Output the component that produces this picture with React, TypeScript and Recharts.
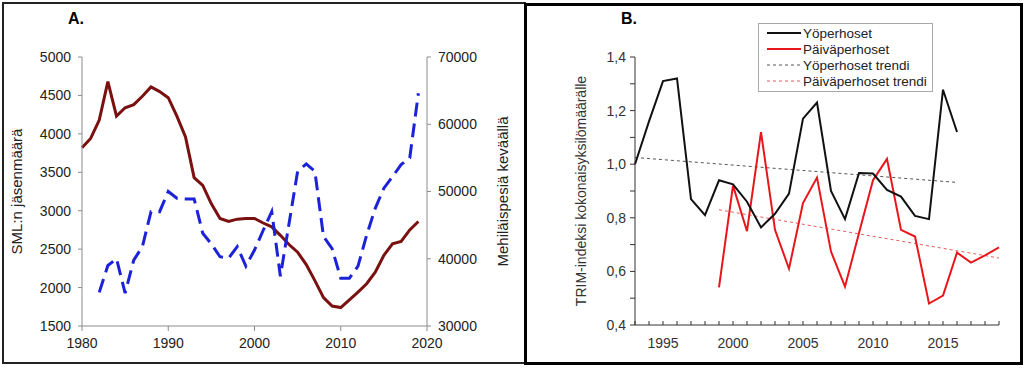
// Two-panel figure: SML members vs. beehives (A) and TRIM butterfly indices (B)
import { LineChart, Line, XAxis, YAxis } from 'recharts';

// Panel A data
const yearsA = [
  1980, 1981, 1982, 1983, 1984, 1985, 1986, 1987, 1988, 1989,
  1990, 1991, 1992, 1993, 1994, 1995, 1996, 1997, 1998, 1999,
  2000, 2001, 2002, 2003, 2004, 2005, 2006, 2007, 2008, 2009,
  2010, 2011, 2012, 2013, 2014, 2015, 2016, 2017, 2018, 2019,
];
const jasenmaara = [
  3820, 3940, 4180, 4680, 4230, 4340, 4380, 4490, 4610, 4550,
  4470, 4230, 3960, 3430, 3330, 3090, 2900, 2860, 2890, 2900,
  2900, 2840, 2790, 2680, 2560, 2460, 2300, 2090, 1870, 1760,
  1740, 1840, 1940, 2050, 2200, 2420, 2570, 2600, 2750, 2860,
];
const pesat = [
  null, null, 35000, 39000, 40000, 34900, 39800, 41800, 47000, 47000,
  50000, 49000, 48900, 48900, 43800, 42200, 40300, 40100, 41800, 38900,
  41300, 44200, 47000, 37400, 45200, 53000, 54100, 53000, 43300, 41500,
  37100, 37100, 38900, 43500, 47500, 50500, 52200, 54000, 55000, 64600,
];
const ticksA = [1980, 1990, 2000, 2010, 2020];
const ticksLeft = [1500, 2000, 2500, 3000, 3500, 4000, 4500, 5000];
const ticksRight = [30000, 40000, 50000, 60000, 70000];

// Panel B data
const yearsB = [
  1993, 1994, 1995, 1996, 1997, 1998, 1999, 2000, 2001, 2002,
  2003, 2004, 2005, 2006, 2007, 2008, 2009, 2010, 2011, 2012,
  2013, 2014, 2015, 2016, 2017, 2018, 2019,
];
const yoperhoset = [
  1.0, 1.16, 1.31, 1.32, 0.87, 0.81, 0.94, 0.925, 0.86, 0.764,
  0.815, 0.89, 1.17, 1.23, 0.9, 0.795, 0.967, 0.965, 0.904, 0.879,
  0.807, 0.795, 1.278, 1.12, null, null, null,
];
const paivaperhoset = [
  null, null, null, null, null, null, 0.54, 0.92, 0.75, 1.12,
  0.755, 0.61, 0.855, 0.95, 0.674, 0.543, 0.743, 0.94, 1.02, 0.755,
  0.73, 0.48, 0.51, 0.67, 0.633, 0.66, 0.69,
];
const yoTrendi = [
  1.025, null, null, null, null, null, null, null, null, null,
  null, null, null, null, null, null, null, null, null, null,
  null, null, null, 0.932, null, null, null,
];
const paivaTrendi = [
  null, null, null, null, null, null, 0.83, null, null, null,
  null, null, null, null, null, null, null, null, null, null,
  null, null, null, null, null, null, 0.65,
];
const ticksBx = yearsB;
const ticksBy = [0.4, 0.5, 0.6, 0.7, 0.8, 0.9, 1.0, 1.1, 1.2, 1.3, 1.4];

const dataA = yearsA.map((year, i) => ({ year, jasen: jasenmaara[i], pesat: pesat[i] }));
const dataB = yearsB.map((year, i) => ({
  year,
  yo: yoperhoset[i],
  paiva: paivaperhoset[i],
  yoT: yoTrendi[i],
  paivaT: paivaTrendi[i],
}));

const legendItems = [
  { name: 'Yöperhoset', color: '#111', width: 2, dash: undefined },
  { name: 'Päiväperhoset', color: '#e8161b', width: 2, dash: undefined },
  { name: 'Yöperhoset trendi', color: '#555', width: 1, dash: '3 3' },
  { name: 'Päiväperhoset trendi', color: '#e85a5a', width: 1, dash: '3 3' },
];

function LegendBox() {
  return (
    <div style={{ position: 'absolute', left: 758, top: 23, border: '1px solid #aaa', background: '#fff', padding: '1px 5px 2px 8px' }}>
      {legendItems.map((it) => (
        <div key={it.name} style={{ display: 'flex', alignItems: 'center', height: 16, fontSize: 13.5, color: '#222' }}>
          <svg width={34} height={10} style={{ marginRight: 2 }}>
            <line x1={0} y1={5} x2={34} y2={5} stroke={it.color} strokeWidth={it.width} strokeDasharray={it.dash} />
          </svg>
          {it.name}
        </div>
      ))}
    </div>
  );
}

const fmtComma = (v: number) => (Math.round(v * 10) % 2 === 0 ? v.toFixed(1).replace('.', ',') : '');
const fmtYear = (v: number) => (v % 5 === 0 ? String(v) : '');

export default function App() {
  return (
    <div style={{ position: 'absolute', left: 0, top: 0, width: 1024, height: 368, background: '#fff', fontFamily: 'Arial, "Liberation Sans", sans-serif', overflow: 'hidden' }}>
      <div style={{ position: 'absolute', left: 2, top: 2, width: 520, height: 358, border: '2px solid #222' }} />
      <div style={{ position: 'absolute', left: 524, top: 3, width: 493, height: 356, border: '3px solid #000' }} />

      <div style={{ position: 'absolute', left: 68, top: 10, fontSize: 16, fontWeight: 'bold' }}>A.</div>
      <div style={{ position: 'absolute', left: 621, top: 10, fontSize: 16, fontWeight: 'bold' }}>B.</div>

      <div style={{ position: 'absolute', left: 0, top: 0 }}>
        <LineChart width={525} height={368} data={dataA} margin={{ top: 57, right: 2, bottom: 12, left: 2 }}>
          <XAxis
            dataKey="year"
            type="number"
            domain={[1980, 2020]}
            ticks={ticksA}
            stroke="#8c8c8c"
            tick={{ fill: '#222', fontSize: 14 }}
            tickSize={5}
            tickMargin={7}
            height={30}
          />
          <YAxis
            yAxisId="left"
            domain={[1500, 5000]}
            ticks={ticksLeft}
            width={80}
            stroke="#8c8c8c"
            tick={{ fill: '#222', fontSize: 14 }}
            tickSize={4}
            tickMargin={7}
            label={{ value: 'SML:n jäsenmäärä', angle: -90, position: 'insideLeft', offset: 15, style: { textAnchor: 'middle', fill: '#222', fontSize: 15 } }}
          />
          <YAxis
            yAxisId="right"
            orientation="right"
            domain={[30000, 70000]}
            ticks={ticksRight}
            width={96}
            stroke="#8c8c8c"
            tick={{ fill: '#222', fontSize: 14 }}
            tickSize={4}
            tickMargin={7}
            label={{ value: 'Mehiläispesiä keväällä', angle: -90, position: 'insideRight', offset: 20, style: { textAnchor: 'middle', fill: '#222', fontSize: 15 } }}
          />
          <Line yAxisId="left" dataKey="jasen" stroke="#7a1010" strokeWidth={3} dot={false} isAnimationActive={false} />
          <Line yAxisId="right" dataKey="pesat" stroke="#1b22d8" strokeWidth={3} strokeDasharray="14 7" dot={false} isAnimationActive={false} />
        </LineChart>
      </div>

      <div style={{ position: 'absolute', left: 525, top: 0 }}>
        <LineChart width={497} height={368} data={dataB} margin={{ top: 57, right: 23, bottom: 13, left: 30 }}>
          <XAxis
            dataKey="year"
            type="number"
            domain={[1993, 2019]}
            ticks={ticksBx}
            interval={0}
            tickFormatter={fmtYear}
            stroke="#333"
            tick={{ fill: '#333', fontSize: 14 }}
            tickSize={-4}
            tickMargin={17}
            height={30}
          />
          <YAxis
            domain={[0.4, 1.4]}
            ticks={ticksBy}
            interval={0}
            tickFormatter={fmtComma}
            width={80}
            stroke="#333"
            tick={{ fill: '#333', fontSize: 14 }}
            tickSize={5}
            tickMargin={4}
            label={{ value: 'TRIM-indeksi kokonaisyksilömäärälle', angle: -90, position: 'insideLeft', offset: 26, style: { textAnchor: 'middle', fill: '#333', fontSize: 14 } }}
          />
          <Line dataKey="yoT" name="Yöperhoset trendi" stroke="#555" strokeWidth={1} strokeDasharray="3 3" dot={false} connectNulls isAnimationActive={false} />
          <Line dataKey="paivaT" name="Päiväperhoset trendi" stroke="#e85a5a" strokeWidth={1} strokeDasharray="3 3" dot={false} connectNulls isAnimationActive={false} />
          <Line dataKey="paiva" name="Päiväperhoset" stroke="#e8161b" strokeWidth={2} dot={false} isAnimationActive={false} />
          <Line dataKey="yo" name="Yöperhoset" stroke="#111" strokeWidth={2} dot={false} isAnimationActive={false} />
        </LineChart>
      </div>

      <LegendBox />
    </div>
  );
}
